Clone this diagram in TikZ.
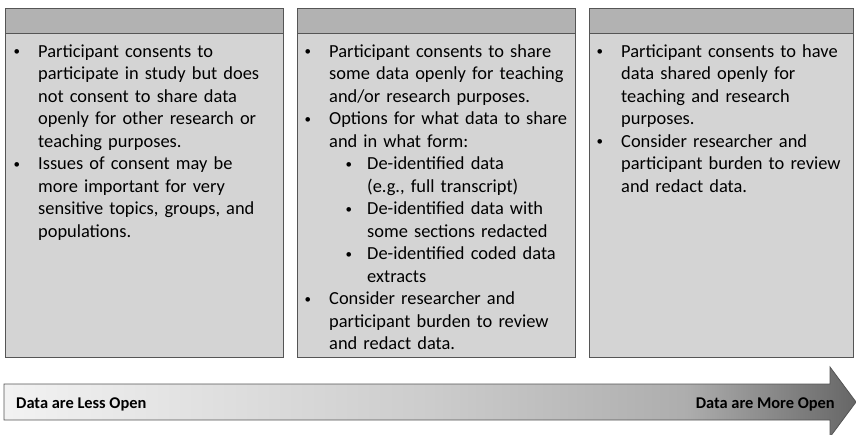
\documentclass[tikz,border=0pt]{standalone}
\usepackage{fontspec}
\setmainfont{Carlito}
\usepackage{enumitem}
\usetikzlibrary{positioning}

\definecolor{frameline}{RGB}{85,85,85}
\definecolor{headfill}{RGB}{178,178,178}
\definecolor{bodyfill}{RGB}{212,212,212}

% left-to-right grey ramp for the openness arrow
\pgfdeclarehorizontalshading{openramp}{100bp}{%
  rgb(0bp)=(0.95,0.95,0.95);
  rgb(25bp)=(0.95,0.95,0.95);
  rgb(50bp)=(0.80,0.80,0.80);
  rgb(65bp)=(0.68,0.68,0.68);
  rgb(75bp)=(0.40,0.40,0.40);
  rgb(100bp)=(0.40,0.40,0.40)}

\newcommand{\smallbullet}{\raisebox{1.5pt}{\fontsize{13}{13}\selectfont•}}

\setlist[itemize,1]{label=\smallbullet, leftmargin=26pt, labelsep=18pt,
  topsep=0pt, itemsep=0pt, parsep=0pt, partopsep=0pt}
\setlist[itemize,2]{label=\smallbullet, leftmargin=38pt, labelsep=15pt,
  topsep=0pt, itemsep=0pt, parsep=0pt, partopsep=0pt}

\tikzset{
  panel/.style={draw=frameline, line width=1pt, fill=bodyfill,
    anchor=north west, inner sep=0pt, minimum width=278pt, minimum height=349pt},
  panelhead/.style={draw=frameline, line width=1pt, fill=headfill,
    anchor=north west, inner sep=0pt, minimum width=278pt, minimum height=25pt},
  paneltext/.style={anchor=base west, inner sep=0pt, text width=272pt,
    font=\fontsize{18.4}{22.5}\selectfont, align=left},
  scalelabel/.style={inner sep=0pt, font=\fontsize{16.4}{19}\selectfont\bfseries}
}

\begin{document}
\begin{tikzpicture}[x=1pt, y=-1pt]
\useasboundingbox (0,0) rectangle (856,434);

% three consent panels
\node[panel] (p1) at (5,8) {};
\node[panelhead] (h1) at (5,8) {};
\node[panel] (p2) at (297,8) {};
\node[panelhead] (h2) at (297,8) {};
\node[panel, minimum width=264pt] (p3) at (589,8) {};
\node[panelhead, minimum width=264pt] (h3) at (589,8) {};

\node[paneltext] (t1) at (12,34.5) {%
\begin{itemize}
\item Participant consents to\newline participate in study but does\newline
  not consent to share data\newline openly for other research or\newline
  teaching purposes.
\item Issues of consent may be\newline more important for very\newline
  sensitive topics, groups, and\newline populations.
\end{itemize}};

\node[paneltext] (t2) at (303,34.5) {%
\begin{itemize}
\item Participant consents to share\newline some data openly for teaching\newline
  and/or research purposes.
\item Options for what data to share\newline and in what form:
  \begin{itemize}
  \item De-identified data\newline (e.g., full transcript)
  \item De-identified data with\newline some sections redacted
  \item De-identified coded data\newline extracts
  \end{itemize}
\item Consider researcher and\newline participant burden to review\newline
  and redact data.
\end{itemize}};

\node[paneltext] (t3) at (595,34.5) {%
\begin{itemize}
\item Participant consents to have\newline data shared openly for\newline
  teaching and research\newline purposes.
\item Consider researcher and\newline participant burden to review\newline
  and redact data.
\end{itemize}};

% openness scale arrow
\coordinate (tail) at (4,402);
\coordinate (tip) at (856,402);
\shade[shading=openramp, draw=frameline, line width=0.8pt]
  (tail) ++(0,-18) -- (830,384) -- (830,367) -- (tip) -- (830,437)
  -- (830,420) -- (4,420) -- cycle;

\node[scalelabel, anchor=base west] (less) at (16,408) {Data are Less Open};
\node[scalelabel, anchor=base east] (more) at (835,408) {Data are More Open};
\end{tikzpicture}
\end{document}
